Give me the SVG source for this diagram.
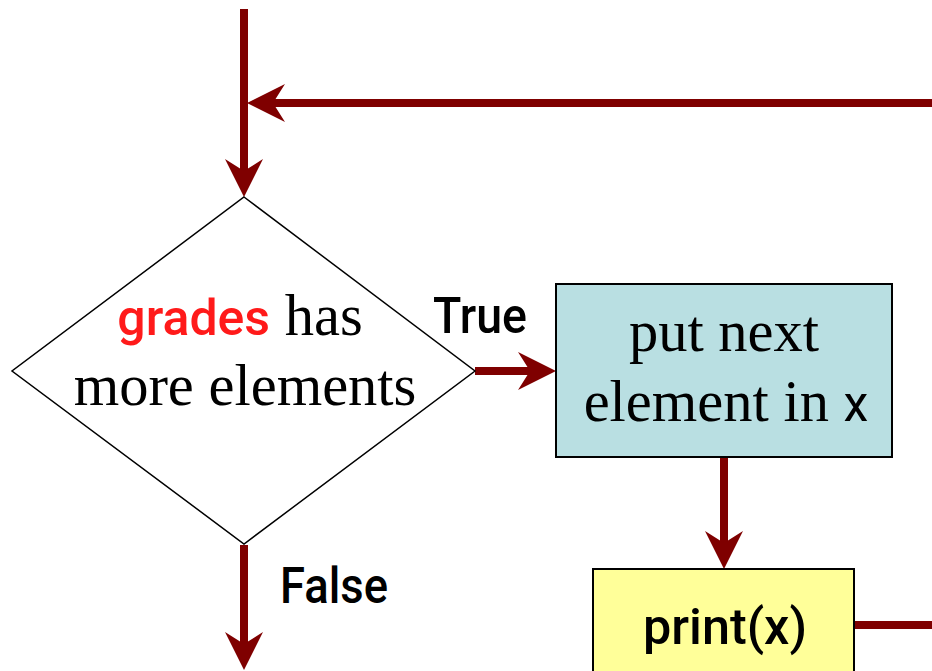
<svg xmlns="http://www.w3.org/2000/svg" width="932" height="671" viewBox="0 0 932 671">
<style>
.conn{stroke:#7f0000;stroke-width:8;fill:none;marker-end:url(#ah)}
.plain{stroke:#7f0000;stroke-width:8;fill:none}
.serif{font-family:"Liberation Serif","Times New Roman",serif;font-size:58.5px;fill:#000}
.sans{font-family:Roboto,"Liberation Sans",sans-serif;font-weight:500;font-size:50px;fill:#000}
</style>
<defs>
<marker id="ah" viewBox="0 0 40 40" refX="14" refY="20" markerWidth="40" markerHeight="40" markerUnits="userSpaceOnUse" orient="auto">
<path d="M0,1 L38,20 L0,39 L12,20 Z" fill="#7f0000"/>
</marker>
</defs>
<rect width="932" height="671" fill="#fff"/>
<g id="connectors">
<path class="conn" d="M244,9 V173"/>
<path class="conn" d="M932,103 H271"/>
<path class="conn" d="M475,371 H532"/>
<path class="conn" d="M724,457 V545"/>
<path class="conn" d="M244,545 V646"/>
<path class="plain" d="M854,625 H932"/>
<text class="sans" x="433" y="333" textLength="94" lengthAdjust="spacingAndGlyphs">True</text>
<text class="sans" x="280" y="603" textLength="108" lengthAdjust="spacingAndGlyphs">False</text>
</g>
<g id="decision">
<polygon points="244,197 475,371 244,544 12,371" fill="#fff" stroke="#000" stroke-width="1.5"/>
<text text-anchor="middle" x="240" y="335"><tspan class="sans" style="fill:#ff1a1a">grades</tspan><tspan class="serif"> has</tspan></text>
<text class="serif" text-anchor="middle" x="245" y="405">more elements</text>
</g>
<g id="put-next">
<rect x="556" y="284" width="336" height="173" fill="#b9dfe2" stroke="#000" stroke-width="2"/>
<text class="serif" text-anchor="middle" x="724" y="351">put next</text>
<text text-anchor="middle" x="726" y="421"><tspan class="serif">element in </tspan><tspan class="sans" style="font-weight:400">x</tspan></text>
</g>
<g id="print">
<rect x="593" y="569" width="261" height="110" fill="#ffff99" stroke="#000" stroke-width="2"/>
<text class="sans" x="643" y="644" textLength="164" lengthAdjust="spacingAndGlyphs">print(x)</text>
</g>
</svg>
